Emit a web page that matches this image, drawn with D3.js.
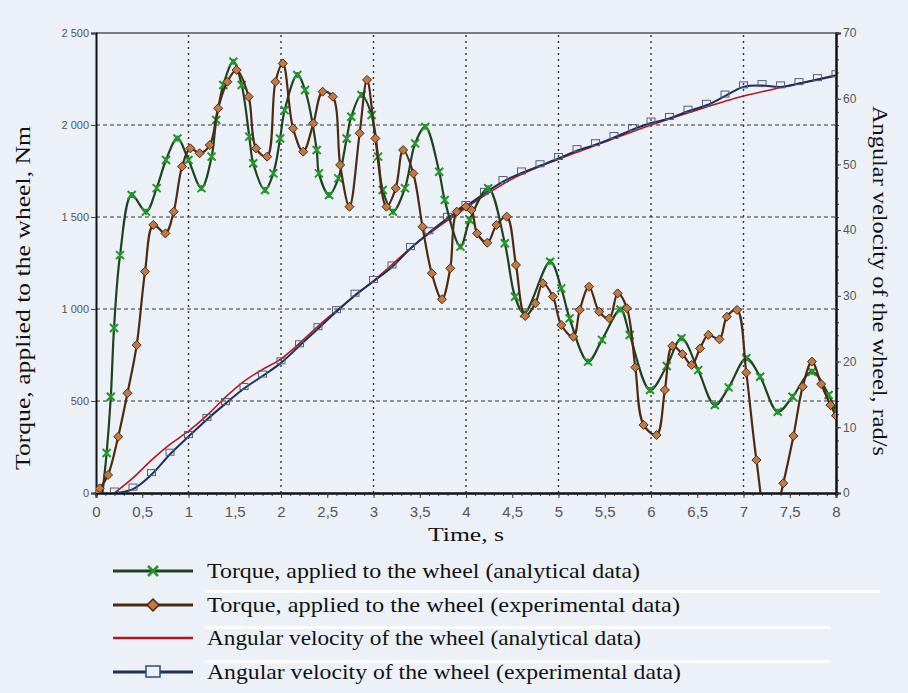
<!DOCTYPE html>
<html>
<head>
<meta charset="utf-8">
<script src="https://cdn.jsdelivr.net/npm/d3@7"></script>
<style>
  body { margin: 0; background: #ecf1f8; }
  svg { display: block; }
  .tick text { font-family: 'Liberation Sans', Arial, sans-serif; fill: #555; }
  .title { font-family: 'Liberation Serif', 'Times New Roman', serif; fill: #111; }
</style>
</head>
<body>
<div class="graph"></div>
<script>
const width = 908;
const height = 693;
const margin = {top: 33, right: 72, bottom: 200, left: 96};

// torque, analytical (time s, Nm)
const analyticalTorqueT = [0.07, 0.115, 0.16, 0.195, 0.26, 0.386, 0.54, 0.656, 0.757, 0.88, 1.0, 1.14, 1.25, 1.3, 1.376, 1.485, 1.575, 1.657, 1.7, 1.827, 1.917, 1.99, 2.04, 2.176, 2.26, 2.386, 2.41, 2.52, 2.62, 2.71, 2.76, 2.87, 2.98, 3.05, 3.1, 3.21, 3.34, 3.45, 3.56, 3.71, 3.77, 3.94, 4.04, 4.24, 4.42, 4.53, 4.63, 4.91, 5.03, 5.12, 5.32, 5.47, 5.67, 5.77, 5.99, 6.17, 6.33, 6.51, 6.69, 6.84, 7.03, 7.18, 7.37, 7.53, 7.74, 7.92, 8.0];
const analyticalTorque = [0, 217, 523, 897, 1293, 1620, 1529, 1657, 1810, 1927, 1810, 1657, 1828, 2027, 2217, 2344, 2217, 1937, 1792, 1647, 1737, 1927, 2081, 2272, 2190, 1864, 1737, 1620, 1710, 1927, 2045, 2163, 2054, 1828, 1647, 1529, 1657, 1900, 1990, 1746, 1592, 1339, 1484, 1656, 1357, 1067, 977, 1257, 1112, 949, 714, 832, 997, 859, 560, 690, 841, 668, 478, 574, 732, 632, 442, 523, 659, 533, 440];

// torque, experimental (time s, Nm)
const experimentalTorqueT = [0, 0.04, 0.13, 0.24, 0.34, 0.44, 0.53, 0.62, 0.75, 0.84, 0.93, 1.02, 1.12, 1.23, 1.32, 1.42, 1.52, 1.65, 1.73, 1.85, 1.94, 2.02, 2.13, 2.24, 2.35, 2.45, 2.56, 2.64, 2.74, 2.85, 2.93, 3.02, 3.14, 3.24, 3.32, 3.43, 3.53, 3.63, 3.74, 3.83, 3.9, 4.0, 4.06, 4.12, 4.23, 4.33, 4.44, 4.54, 4.64, 4.75, 4.83, 4.94, 5.03, 5.16, 5.23, 5.33, 5.44, 5.55, 5.64, 5.74, 5.83, 5.92, 6.06, 6.15, 6.23, 6.34, 6.44, 6.53, 6.62, 6.74, 6.82, 6.93, 7.03, 7.14, 7.28, 7.43, 7.54, 7.64, 7.74, 7.84, 7.94, 8.0];
const experimentalTorque = [5, 25, 98, 306, 542, 804, 1203, 1457, 1411, 1529, 1774, 1873, 1846, 1891, 2091, 2235, 2299, 2154, 1873, 1828, 2235, 2335, 1982, 1855, 2009, 2181, 2154, 1783, 1556, 1955, 2245, 1927, 1556, 1656, 1864, 1737, 1447, 1194, 1053, 1221, 1529, 1556, 1538, 1411, 1360, 1457, 1502, 1239, 962, 1031, 1140, 1067, 913, 849, 995, 1121, 985, 949, 1085, 1004, 683, 370, 315, 560, 799, 755, 696, 786, 859, 835, 958, 995, 654, 179, -250, 53, 310, 578, 714, 592, 478, 420];

// angular velocity, analytical (time s, rad/s)
const analyticalOmegaT = [0.2, 0.4, 0.6, 0.8, 1.0, 1.2, 1.4, 1.6, 1.8, 2.0, 2.5, 3.0, 3.5, 4.0, 4.5, 5.0, 5.5, 6.0, 6.5, 7.0, 7.5, 8.0];
const analyticalOmega = [0, 2.3, 5.0, 7.4, 9.4, 11.8, 14.6, 17.0, 18.8, 20.4, 26.6, 32.3, 38.4, 43.4, 47.8, 50.8, 53.4, 56.0, 58.3, 60.4, 62.0, 63.6];

// angular velocity, experimental (time s, rad/s)
const experimentalOmegaT = [0.2, 0.4, 0.6, 0.8, 1.0, 1.2, 1.4, 1.6, 1.8, 2.0, 2.2, 2.4, 2.6, 2.8, 3.0, 3.2, 3.4, 3.6, 3.8, 4.0, 4.2, 4.4, 4.6, 4.8, 5.0, 5.2, 5.4, 5.6, 5.8, 6.0, 6.2, 6.4, 6.6, 6.8, 7.0, 7.2, 7.4, 7.6, 7.8, 8.0];
const experimentalOmega = [0, 0.6, 2.8, 5.9, 8.6, 11.2, 13.6, 15.9, 17.8, 19.8, 22.4, 25.0, 27.6, 30.1, 32.2, 34.4, 37.2, 39.6, 41.8, 43.6, 45.6, 47.4, 48.7, 49.8, 50.9, 52.1, 53.0, 54.1, 55.3, 56.3, 57.0, 58.1, 59.0, 60.4, 61.8, 62.0, 61.8, 62.3, 62.9, 63.5];

const xTicks = d3.range(0, 8.01, 0.5);
const torqueTicks = [0, 500, 1000, 1500, 2000, 2500];
const omegaTicks = [0, 10, 20, 30, 40, 50, 60, 70];

const legendLabels = [
  'Torque, applied to the wheel (analytical data)',
  'Torque, applied to the wheel (experimental data)',
  'Angular velocity of the wheel (analytical data)',
  'Angular velocity of the wheel (experimental data)',
];

const color = {
  bg: '#ecf1f8',
  greenLine: '#1f4220',
  greenMark: '#23952a',
  brownLine: '#4e2a12',
  brownMark: '#c27a45',
  red: '#b3191c',
  blue: '#1c2e5c',
  blueMark: '#55607a',
  grid: '#333',
};

const locale = d3.formatLocale({decimal: ',', thousands: ' ', grouping: [3], currency: ['', '']});

const svg = d3.select('.graph')
  .append('svg')
    .attr('width', width)
    .attr('height', height);

svg.append('rect')
  .attr('width', width)
  .attr('height', height)
  .attr('fill', color.bg);

svg.append('defs').append('clipPath')
  .attr('id', 'plot')
  .append('rect')
    .attr('x', margin.left)
    .attr('y', margin.top)
    .attr('width', width - margin.left - margin.right)
    .attr('height', height - margin.top - margin.bottom);

const x = d3.scaleLinear([0, 8], [margin.left, width - margin.right]);
const yT = d3.scaleLinear([0, 2500], [height - margin.bottom, margin.top]);
const yW = d3.scaleLinear([0, 70], [height - margin.bottom, margin.top]);

// grid
svg.append('g')
  .selectAll('line')
  .data(torqueTicks.slice(1, -1))
  .join('line')
    .attr('x1', x(0))
    .attr('x2', x(8))
    .attr('y1', d => yT(d))
    .attr('y2', d => yT(d))
    .attr('stroke', color.grid)
    .attr('stroke-width', 1.2)
    .attr('stroke-dasharray', '4,3');

svg.append('g')
  .selectAll('line')
  .data(d3.range(1, 8))
  .join('line')
    .attr('x1', d => x(d))
    .attr('x2', d => x(d))
    .attr('y1', yT(0))
    .attr('y2', yT(2500))
    .attr('stroke', color.grid)
    .attr('stroke-width', 1.4)
    .attr('stroke-dasharray', '2,4');

// top border
svg.append('line')
  .attr('x1', x(0)).attr('x2', x(8))
  .attr('y1', yT(2500)).attr('y2', yT(2500))
  .attr('stroke', '#555')
  .attr('stroke-width', 1.5);

// axes
const bottom = svg.append('g')
  .attr('transform', `translate(0,${yT(0)})`)
  .call(d3.axisBottom(x).tickValues(d3.range(0, 8.01, 0.1)).tickSize(3).tickFormat(''));
bottom.append('g')
  .call(d3.axisBottom(x).tickValues(xTicks).tickSize(5).tickPadding(8)
    .tickFormat(d => locale.format(',')(d)));
bottom.selectAll('.tick text').attr('font-size', 15).attr('fill', '#666');

const left = svg.append('g')
  .attr('transform', `translate(${x(0)},0)`)
  .call(d3.axisLeft(yT).tickValues(torqueTicks).tickSize(5).tickPadding(2)
    .tickFormat(locale.format(',')));
left.selectAll('.tick text').attr('font-size', 11);

const right = svg.append('g')
  .attr('transform', `translate(${x(8)},0)`)
  .call(d3.axisRight(yW).tickValues(d3.range(0, 70.1, 2)).tickSize(3).tickFormat(''));
right.append('g')
  .call(d3.axisRight(yW).tickValues(omegaTicks).tickSize(5).tickPadding(2));
right.selectAll('.tick text').attr('font-size', 12);

svg.selectAll('.domain').attr('stroke', '#111').attr('stroke-width', 2);
svg.selectAll('.tick line').attr('stroke', '#444');

// axis titles, stretched like the scanned original
svg.append('text')
  .attr('class', 'title')
  .attr('x', x(4))
  .attr('y', 541)
  .attr('text-anchor', 'middle')
  .attr('font-size', 19)
  .attr('textLength', 76)
  .attr('lengthAdjust', 'spacingAndGlyphs')
  .text('Time, s');

svg.append('text')
  .attr('class', 'title')
  .attr('transform', `translate(30,298) rotate(-90)`)
  .attr('text-anchor', 'middle')
  .attr('font-size', 21)
  .attr('textLength', 344)
  .attr('lengthAdjust', 'spacingAndGlyphs')
  .text('Torque, applied to the wheel, Nm');

svg.append('text')
  .attr('class', 'title')
  .attr('transform', `translate(873,281) rotate(90)`)
  .attr('text-anchor', 'middle')
  .attr('font-size', 21)
  .attr('textLength', 350)
  .attr('lengthAdjust', 'spacingAndGlyphs')
  .text('Angular velocity of the wheel, rad/s');

// series
const plot = svg.append('g').attr('clip-path', 'url(#plot)');

const pts = (ts, vs) => ts.map((t, i) => [t, vs[i]]);
const lineT = d3.line().x(d => x(d[0])).y(d => yT(d[1])).curve(d3.curveCatmullRom);
const lineW = d3.line().x(d => x(d[0])).y(d => yW(d[1])).curve(d3.curveCatmullRom);

const redData = pts(analyticalOmegaT, analyticalOmega);
const blueData = pts(experimentalOmegaT, experimentalOmega);
const greenData = pts(analyticalTorqueT, analyticalTorque);
const brownData = pts(experimentalTorqueT, experimentalTorque);

plot.append('path')
  .attr('d', lineW(redData))
  .attr('fill', 'none')
  .attr('stroke', color.red)
  .attr('stroke-width', 1.6);

plot.append('path')
  .attr('d', lineW(blueData))
  .attr('fill', 'none')
  .attr('stroke', color.blue)
  .attr('stroke-width', 2);

plot.append('g')
  .selectAll('rect')
  .data(blueData)
  .join('rect')
    .attr('x', d => x(d[0]) - 4)
    .attr('y', d => yW(d[1]) - 5)
    .attr('width', 8)
    .attr('height', 6)
    .attr('fill', 'none')
    .attr('stroke', color.blueMark)
    .attr('stroke-width', 1);

plot.append('path')
  .attr('d', lineT(greenData))
  .attr('fill', 'none')
  .attr('stroke', color.greenLine)
  .attr('stroke-width', 2.2);

const cross = 'M-4,-4L4,4M-4,4L4,-4M0,-3L0,3';
plot.append('g')
  .selectAll('path')
  .data(greenData.slice(1))
  .join('path')
    .attr('transform', d => `translate(${x(d[0])},${yT(d[1])})`)
    .attr('d', cross)
    .attr('stroke', color.greenMark)
    .attr('stroke-width', 2);

plot.append('path')
  .attr('d', lineT(brownData))
  .attr('fill', 'none')
  .attr('stroke', color.brownLine)
  .attr('stroke-width', 2.2);

const diamond = 'M0,-4.5L4.5,0L0,4.5L-4.5,0Z';
plot.append('g')
  .selectAll('path')
  .data(brownData)
  .join('path')
    .attr('transform', d => `translate(${x(d[0])},${yT(d[1])})`)
    .attr('d', diamond)
    .attr('fill', color.brownMark)
    .attr('stroke', color.brownLine)
    .attr('stroke-width', 1);

// legend
const legend = svg.append('g');

// pale streaks that run through the legend in the original scan
legend.selectAll('.streak')
  .data([[590, 880], [626, 830], [660, 830]])
  .join('rect')
    .attr('class', 'streak')
    .attr('x', 205)
    .attr('y', d => d[0])
    .attr('width', d => d[1] - 205)
    .attr('height', 3)
    .attr('fill', '#fff');

const rowY = [571, 605, 638, 672];
const rowWidth = [433, 473, 434, 474];
const lineColors = [color.greenLine, color.brownLine, color.red, color.blue];

legend.selectAll('.key')
  .data(rowY)
  .join('line')
    .attr('class', 'key')
    .attr('x1', 113)
    .attr('x2', 193)
    .attr('y1', d => d)
    .attr('y2', d => d)
    .attr('stroke', (d, i) => lineColors[i])
    .attr('stroke-width', (d, i) => i === 2 ? 2.5 : 3);

legend.append('path')
  .attr('transform', `translate(153,${rowY[0]})`)
  .attr('d', 'M-5,-5L5,5M-5,5L5,-5')
  .attr('stroke', color.greenMark)
  .attr('stroke-width', 2.5);

legend.append('path')
  .attr('transform', `translate(153,${rowY[1]})`)
  .attr('d', 'M0,-6L6,0L0,6L-6,0Z')
  .attr('fill', color.brownMark)
  .attr('stroke', color.brownLine)
  .attr('stroke-width', 1.5);

legend.append('rect')
  .attr('x', 146)
  .attr('y', rowY[3] - 6)
  .attr('width', 14)
  .attr('height', 11)
  .attr('fill', color.bg)
  .attr('stroke', '#2a4a80')
  .attr('stroke-width', 1.5);

legend.selectAll('.label')
  .data(legendLabels)
  .join('text')
    .attr('class', 'title label')
    .attr('x', 207)
    .attr('y', (d, i) => rowY[i] + 7)
    .attr('font-size', 21)
    .attr('textLength', (d, i) => rowWidth[i])
    .attr('lengthAdjust', 'spacingAndGlyphs')
    .text(d => d);
</script>
</body>
</html>
